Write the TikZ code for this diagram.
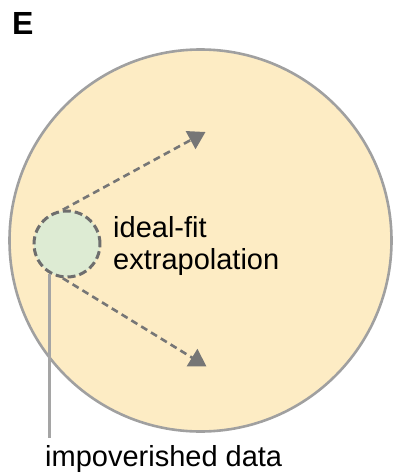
\documentclass[tikz,border=0pt]{standalone}
\usepackage{fontspec}
\setmainfont{Liberation Sans}
\usetikzlibrary{arrows.meta}
\definecolor{spacefill}{RGB}{253,236,196}
\definecolor{spaceedge}{RGB}{160,160,160}
\definecolor{datafill}{RGB}{221,235,211}
\definecolor{dataedge}{RGB}{110,110,110}
\definecolor{arrowgray}{RGB}{118,118,118}
\definecolor{leadgray}{RGB}{165,165,165}
\tikzset{
  spacecircle/.style={circle, draw=spaceedge, fill=spacefill, line width=2.6pt, minimum size=382pt, inner sep=0pt},
  datacircle/.style={circle, draw=dataedge, fill=datafill, line width=3pt, dash pattern=on 8pt off 4pt, minimum size=66pt, inner sep=0pt},
  extrap/.style={draw=arrowgray, line width=2.6pt, dash pattern=on 7pt off 4.5pt, -{Triangle[length=17pt,width=20pt]}},
  leadline/.style={draw=leadgray, line width=2.6pt},
  lbl/.style={font=\fontsize{29}{32}\selectfont, text=black, inner sep=0pt},
  panel/.style={font=\fontsize{32}{36}\selectfont\bfseries, text=black, inner sep=0pt}
}
\begin{document}
\begin{tikzpicture}[x=1pt,y=-1pt]
\useasboundingbox (0,0) rectangle (392,476);
\node[spacecircle] (space) at (200.5,240.5) {};
\node[datacircle] (data) at (67,244) {};
\coordinate (up) at (205.5,132);
\coordinate (down) at (206.5,366.5);
\draw[extrap] (data.97) -- (up);
\draw[extrap] (data.263) -- (down);
\node[lbl, anchor=base west, align=left] (fit) at (113,269) {ideal-fit\\extrapolation};
\node[lbl, anchor=base west] (imp) at (45,466) {impoverished data};
\coordinate (leadend) at (50,438);
\draw[leadline] (data.239) -- (data.239 |- leadend);
\node[panel, anchor=base west] (E) at (12,35) {E};
\end{tikzpicture}
\end{document}
